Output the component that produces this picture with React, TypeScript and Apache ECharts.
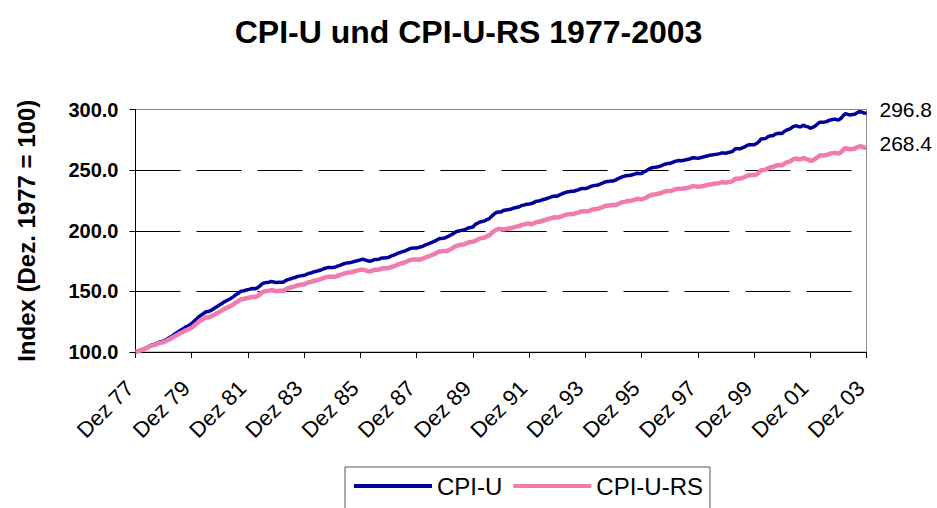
import React, { useEffect, useRef } from "react";
import * as echarts from "echarts";

const FONT = "'Liberation Sans', Arial, Helvetica, sans-serif";

const TITLE = "CPI-U und CPI-U-RS 1977-2003";
const Y_NAME = "Index (Dez. 1977 = 100)";
const MONTHS = ["Jan", "Feb", "Mrz", "Apr", "Mai", "Jun", "Jul", "Aug", "Sep", "Okt", "Nov", "Dez"];
const YEARS = [1978, 1979, 1980, 1981, 1982, 1983, 1984, 1985, 1986, 1987, 1988, 1989, 1990,
  1991, 1992, 1993, 1994, 1995, 1996, 1997, 1998, 1999, 2000, 2001, 2002, 2003];
const SERIES_NAMES = ["CPI-U", "CPI-U-RS"];

// monthly index values, Dez 1977 = 100 (first value = Dez 77, then Jan..Dez for each year)
const cpiU = [100.0,
  100.6, 101.3, 102.1, 102.9, 103.9, 105.0, 105.8, 106.3, 107.1, 108.0, 108.5, 109.0,
  110.0, 111.3, 112.4, 113.7, 115.1, 116.4, 117.7, 118.8, 120.1, 121.1, 122.2, 123.5,
  125.3, 127.1, 129.0, 130.4, 131.7, 133.2, 133.2, 134.1, 135.3, 136.5, 137.7, 139.0,
  140.1, 141.5, 142.5, 143.5, 144.6, 145.9, 147.5, 148.6, 150.1, 150.4, 150.9, 151.4,
  151.9, 152.3, 152.2, 152.8, 154.3, 156.2, 157.0, 157.3, 157.6, 158.1, 157.8, 157.2,
  157.5, 157.6, 157.6, 158.8, 159.7, 160.2, 160.9, 161.4, 162.2, 162.6, 163.0, 163.1,
  164.1, 164.9, 165.2, 166.0, 166.5, 167.0, 167.6, 168.3, 169.1, 169.6, 169.6, 169.6,
  169.9, 170.7, 171.3, 172.1, 172.8, 173.3, 173.6, 173.9, 174.4, 175.0, 175.5, 176.0,
  176.5, 176.0, 175.2, 174.9, 175.4, 176.3, 176.3, 176.6, 177.5, 177.6, 177.8, 177.9,
  179.1, 179.7, 180.5, 181.5, 182.1, 182.8, 183.3, 184.2, 185.2, 185.7, 185.8, 185.8,
  186.3, 186.8, 187.6, 188.6, 189.2, 190.0, 190.8, 191.6, 192.9, 193.6, 193.7, 194.0,
  195.0, 195.8, 196.9, 198.2, 199.4, 199.8, 200.3, 200.6, 201.3, 202.3, 202.7, 203.1,
  205.2, 206.1, 207.2, 207.6, 208.1, 209.2, 210.0, 211.9, 213.7, 215.0, 215.5, 215.5,
  216.7, 217.1, 217.4, 217.7, 218.4, 219.0, 219.3, 220.0, 220.9, 221.3, 221.9, 222.1,
  222.4, 223.2, 224.3, 224.6, 225.0, 225.8, 226.2, 226.9, 227.5, 228.3, 228.7, 228.5,
  229.6, 230.4, 231.2, 231.9, 232.2, 232.5, 232.5, 233.2, 233.7, 234.6, 234.8, 234.8,
  235.4, 236.2, 237.0, 237.4, 237.5, 238.3, 239.0, 239.9, 240.6, 240.7, 241.1, 241.1,
  242.0, 243.0, 243.8, 244.6, 245.1, 245.6, 245.6, 246.2, 246.7, 247.5, 247.3, 247.2,
  248.6, 249.4, 250.7, 251.7, 252.2, 252.3, 252.8, 253.3, 254.1, 254.9, 255.4, 255.4,
  256.2, 257.0, 257.6, 258.0, 257.8, 258.1, 258.5, 258.9, 259.6, 260.2, 260.1, 259.7,
  260.2, 260.7, 261.2, 261.7, 262.2, 262.5, 262.8, 263.1, 263.4, 264.1, 264.1, 263.9,
  264.6, 264.9, 265.7, 267.6, 267.6, 267.6, 268.4, 269.1, 270.4, 270.9, 271.0, 271.0,
  271.8, 273.4, 275.7, 275.8, 276.2, 277.6, 278.3, 278.3, 279.7, 280.2, 280.4, 280.2,
  282.0, 283.1, 283.7, 284.9, 286.1, 286.6, 285.8, 285.8, 287.1, 286.1, 285.7, 284.5,
  285.2, 286.3, 287.9, 289.5, 289.5, 289.7, 290.0, 291.0, 291.5, 291.9, 291.9, 291.3,
  292.6, 294.8, 296.6, 296.0, 295.5, 295.8, 296.1, 297.3, 298.2, 297.9, 297.1, 296.8,
];

const cpiURS = [100.0,
  100.5, 101.2, 101.9, 102.6, 103.6, 104.6, 105.3, 105.7, 106.5, 107.3, 107.7, 108.1,
  108.9, 110.1, 111.0, 112.1, 113.3, 114.3, 115.4, 116.3, 117.4, 118.2, 119.1, 120.1,
  121.7, 123.3, 125.0, 126.2, 127.3, 128.6, 128.5, 129.2, 130.2, 131.2, 132.2, 133.3,
  134.3, 135.6, 136.5, 137.4, 138.4, 139.6, 141.1, 142.1, 143.5, 143.7, 144.2, 144.6,
  145.0, 145.5, 145.3, 146.0, 147.3, 149.2, 150.0, 150.3, 150.6, 151.0, 150.7, 150.1,
  150.4, 150.6, 150.6, 151.6, 152.6, 153.0, 153.6, 154.1, 154.9, 155.3, 155.6, 155.8,
  156.7, 157.5, 157.8, 158.6, 159.0, 159.5, 160.1, 160.7, 161.5, 162.0, 162.0, 162.0,
  162.0, 162.7, 163.3, 164.1, 164.7, 165.2, 165.5, 165.8, 166.2, 166.9, 167.3, 167.8,
  167.9, 167.5, 166.7, 166.4, 166.9, 167.8, 167.8, 168.1, 168.8, 169.0, 169.1, 169.3,
  169.9, 170.5, 171.3, 172.2, 172.8, 173.4, 173.9, 174.8, 175.7, 176.2, 176.3, 176.3,
  176.1, 176.6, 177.3, 178.2, 178.8, 179.6, 180.4, 181.1, 182.3, 182.9, 183.1, 183.4,
  183.4, 184.2, 185.3, 186.5, 187.5, 188.0, 188.4, 188.8, 189.4, 190.3, 190.7, 191.0,
  191.7, 192.6, 193.7, 194.0, 194.4, 195.5, 196.2, 198.1, 199.7, 200.9, 201.4, 201.4,
  201.1, 201.4, 201.7, 202.0, 202.6, 203.2, 203.5, 204.0, 204.9, 205.2, 205.8, 206.0,
  205.3, 206.1, 207.1, 207.4, 207.7, 208.5, 208.9, 209.5, 210.1, 210.8, 211.1, 211.0,
  211.3, 212.0, 212.7, 213.3, 213.6, 213.9, 213.9, 214.5, 215.0, 215.8, 216.0, 216.0,
  216.0, 216.7, 217.5, 217.8, 217.9, 218.6, 219.2, 220.1, 220.7, 220.9, 221.2, 221.2,
  221.2, 222.1, 222.9, 223.6, 224.0, 224.5, 224.5, 225.1, 225.5, 226.2, 226.1, 225.9,
  226.6, 227.4, 228.6, 229.4, 229.9, 230.0, 230.5, 230.9, 231.6, 232.4, 232.8, 232.8,
  233.1, 233.9, 234.4, 234.7, 234.6, 234.9, 235.2, 235.6, 236.2, 236.8, 236.6, 236.3,
  236.4, 236.8, 237.2, 237.7, 238.1, 238.4, 238.7, 239.0, 239.3, 239.9, 239.9, 239.7,
  240.1, 240.4, 241.1, 242.9, 242.9, 242.9, 243.6, 244.2, 245.3, 245.8, 245.9, 245.9,
  246.4, 247.9, 249.9, 250.1, 250.4, 251.7, 252.3, 252.3, 253.6, 254.0, 254.2, 254.0,
  255.4, 256.4, 257.0, 258.0, 259.2, 259.6, 258.9, 258.9, 260.1, 259.2, 258.8, 257.7,
  258.1, 259.1, 260.6, 262.0, 262.0, 262.2, 262.5, 263.3, 263.8, 264.2, 264.2, 263.6,
  264.5, 266.6, 268.2, 267.6, 267.2, 267.5, 267.8, 268.8, 269.6, 269.4, 268.6, 268.4,
];

const Y_MIN = 100;
const Y_MAX = 300;
const Y_STEP = 50;

const categories: string[] = ["Dez 77"];
YEARS.forEach((y) => {
  MONTHS.forEach((m) => categories.push(`${m} ${String(y).slice(2)}`));
});

export default function App() {
  const ref = useRef<HTMLDivElement>(null);

  useEffect(() => {
    document.body.style.margin = "0";
    if (!ref.current) return;
    const chart = echarts.init(ref.current, undefined, { renderer: "svg" });
    const endLabel = {
      show: true,
      formatter: (p: any) => Number(p.value).toFixed(1),
      color: "#000",
      fontSize: 21,
      fontFamily: FONT,
      distance: 13,
      offset: [0, -4],
    };
    chart.setOption({
      animation: false,
      backgroundColor: "#fff",
      title: {
        text: TITLE,
        left: "center",
        top: 11,
        textStyle: { fontSize: 32, fontWeight: "bold", color: "#000", fontFamily: FONT },
      },
      legend: {
        data: SERIES_NAMES,
        left: 345,
        top: 467,
        orient: "horizontal",
        icon: "rect",
        itemWidth: 78,
        itemHeight: 4,
        itemGap: 11,
        padding: [7, 7, 40, 9],
        borderColor: "#555",
        borderWidth: 1,
        textStyle: { fontSize: 24, color: "#000", fontFamily: FONT },
      },
      grid: {
        left: 135.5,
        right: 70.5,
        top: 109.5,
        bottom: 156,
        show: true,
        borderColor: "#8c8c8c",
        borderWidth: 1,
      },
      xAxis: {
        type: "category",
        data: categories,
        boundaryGap: false,
        axisLine: { lineStyle: { color: "#000", width: 1 } },
        axisTick: { show: true, interval: 23, length: 6, lineStyle: { color: "#000" } },
        axisLabel: {
          interval: 23,
          rotate: 45,
          margin: 27,
          padding: [0, 8, 0, 0],
          fontSize: 22,
          color: "#000",
          fontFamily: FONT,
        },
        splitLine: { show: false },
      },
      yAxis: {
        type: "value",
        min: Y_MIN,
        max: Y_MAX,
        interval: Y_STEP,
        name: Y_NAME,
        nameLocation: "middle",
        nameGap: 97,
        nameTextStyle: { fontSize: 24, fontWeight: "bold", color: "#000", fontFamily: FONT },
        axisLine: { show: true, lineStyle: { color: "#000", width: 1 } },
        axisTick: { show: true, length: 6, lineStyle: { color: "#000" } },
        axisLabel: {
          margin: 17,
          fontSize: 20,
          fontWeight: "bold",
          color: "#000",
          fontFamily: FONT,
          formatter: (v: number) => v.toFixed(1),
        },
        splitLine: {
          show: true,
          showMinLine: false,
          showMaxLine: false,
          lineStyle: { color: "#000", width: 1, type: [45, 16] },
        },
      },
      series: [
        {
          name: SERIES_NAMES[0],
          type: "line",
          data: cpiU,
          symbol: "none",
          lineStyle: { color: "#00009c", width: 3.5 },
          itemStyle: { color: "#00009c" },
          endLabel,
        },
        {
          name: SERIES_NAMES[1],
          type: "line",
          data: cpiURS,
          symbol: "none",
          lineStyle: { color: "#f27bae", width: 4.5 },
          itemStyle: { color: "#f27bae" },
          endLabel,
        },
      ],
    });
    return () => chart.dispose();
  }, []);

  return <div ref={ref} style={{ width: 937, height: 508 }} />;
}
